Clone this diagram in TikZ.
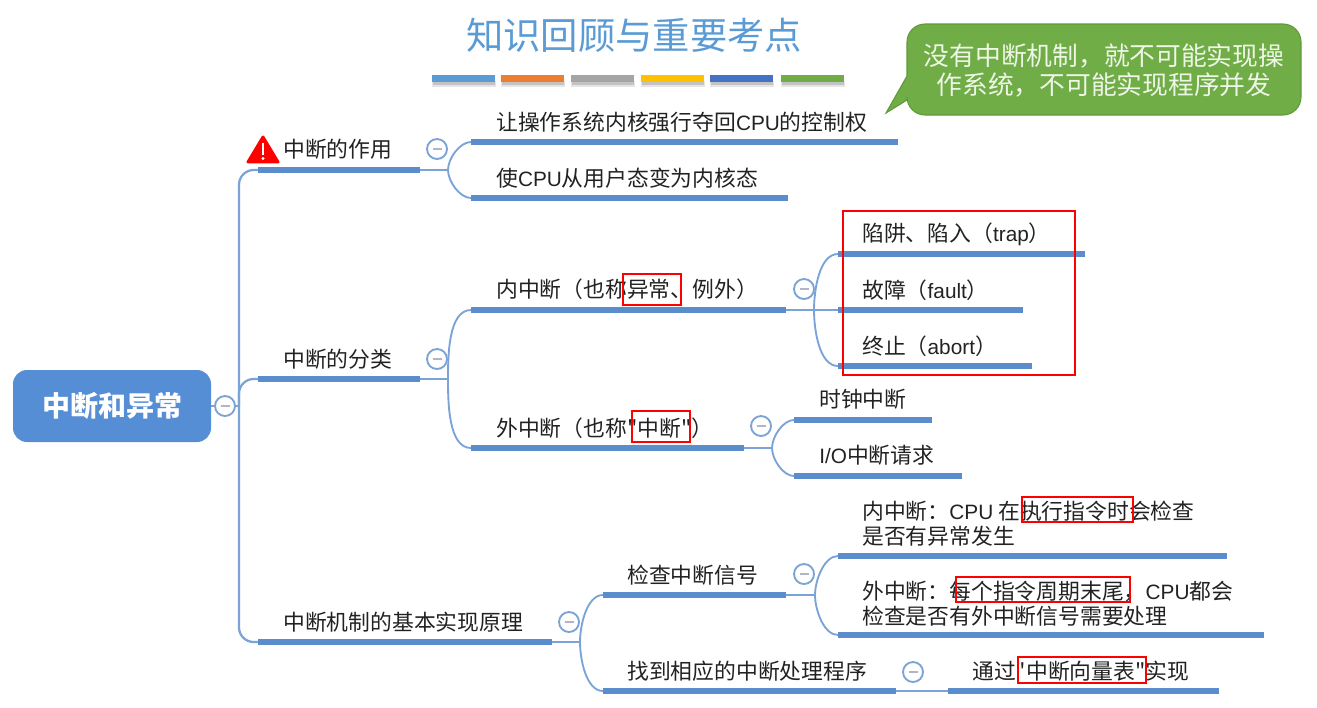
\documentclass[tikz,border=0pt]{standalone}
\usepackage{fontspec}
\newfontfamily\cjkmain{Noto Sans CJK SC}
\newfontfamily\latinpart{Liberation Sans}
\newcommand{\la}[1]{{\latinpart\fontsize{15.6pt}{18.6pt}\selectfont #1}}
\AtBeginDocument{\cjkmain}
\usetikzlibrary{calc}
\definecolor{barblue}{HTML}{5B8CCB}
\definecolor{connblue}{HTML}{7BA3D6}
\definecolor{rootblue}{HTML}{558ED5}
\definecolor{inktext}{HTML}{222222}
\definecolor{calloutgreen}{HTML}{70AD47}
\definecolor{calloutedge}{HTML}{5F9A3A}
\definecolor{calloutink}{HTML}{EEF6E6}
\definecolor{minusmark}{HTML}{B4B4C8}
\tikzset{
  barst/.style={rectangle,fill=barblue,draw=none,minimum height=4.8pt,inner sep=0pt,outer sep=0pt},
  conn/.style={draw=connblue,line width=1.7pt},
  twig/.style={draw=connblue,line width=1.4pt},
  lbl/.style={anchor=base west,inner sep=0pt,text=inktext,font=\cjkmain\fontsize{16.35pt}{18.6pt}\selectfont},
  redbox/.style={draw=red,line width=0.9pt},
  minusst/.style={circle,draw=connblue,fill=white,line width=1.4pt,minimum size=15pt,inner sep=0pt,
    path picture={\draw[draw=minusmark,line width=1.3pt] ($(path picture bounding box.center)+(-4.5,0)$) -- ($(path picture bounding box.center)+(4.5,0)$);}},
  swatch/.style={rectangle,minimum height=5.2pt,minimum width=47.3pt,inner sep=0pt,draw=none},
}
\newcommand{\barnode}[4]{%
  \pgfmathsetmacro{\barw}{(#3-#2)*0.75}%
  \node[barst,minimum width=\barw pt] (#1) at ({(#2+#3)/2},#4) {};}
\newcommand{\swatchnode}[3]{%
  \fill[black,opacity=.10] (#2-32,81) rectangle (#2+32,87);
  \fill[black,opacity=.15] (#2-31,82) rectangle (#2+31,85);
  \node[swatch,fill=#3] (#1) at (#2,78.5) {};}
\begin{document}
\begin{tikzpicture}[x=0.75pt,y=-0.75pt]
\useasboundingbox (0,0) rectangle (1317,707);
% title
\node[inner sep=0pt,text={rgb,255:red,91;green,155;blue,213},font=\fontsize{28pt}{32pt}\selectfont] (title) at (634,35.5) {知识回顾与重要考点};
\definecolor{sw1}{HTML}{5B9BD5}\definecolor{sw2}{HTML}{ED7D31}\definecolor{sw3}{HTML}{A5A5A5}
\definecolor{sw4}{HTML}{FFC000}\definecolor{sw5}{HTML}{4472C4}\definecolor{sw6}{HTML}{70AD47}
\swatchnode{s1}{463.5}{sw1}
\swatchnode{s2}{532.5}{sw2}
\swatchnode{s3}{602.5}{sw3}
\swatchnode{s4}{672.5}{sw4}
\swatchnode{s5}{741.5}{sw5}
\swatchnode{s6}{812.5}{sw6}
% callout
\draw[fill=calloutgreen,draw=calloutedge,line width=0.8pt]
  (925,24) -- (1283,24) arc[start angle=-90,end angle=0,radius=18] -- (1301,97)
  arc[start angle=0,end angle=90,radius=18] -- (925,115)
  arc[start angle=90,end angle=180,radius=18] -- (907,100) -- (886,113) -- (907,76) -- (907,42)
  arc[start angle=180,end angle=270,radius=18] -- cycle;
\node[inner sep=0pt,align=center,text=calloutink,font=\fontsize{19.3pt}{21.9pt}\selectfont] (note) at (1104,70.5) {没有中断机制，就不可能实现操\\作系统，不可能实现程序并发};
% root
\node[rectangle,rounded corners=10.5pt,fill=rootblue,minimum width=148.5pt,minimum height=54pt,inner sep=0pt,text=white,font=\fontsize{21pt}{24pt}\selectfont\bfseries] (root) at (112,406) {中断和异常};
% bars
\barnode{b1}{258}{420}{170}
\barnode{b2}{258}{420}{379}
\barnode{b3}{258}{552}{642}
\barnode{a1}{471}{898}{142}
\barnode{a2}{471}{788}{198}
\barnode{c1}{471}{786}{310}
\barnode{c2}{471}{744}{448}
\barnode{d1}{838}{1085}{254}
\barnode{d2}{838}{1023}{310}
\barnode{d3}{838}{1032}{366}
\barnode{e1}{794}{932}{420}
\barnode{e2}{794}{962}{476}
\barnode{f1}{603}{786}{595}
\barnode{f2}{603}{896}{691}
\barnode{g1}{838}{1227}{556}
\barnode{g2}{838}{1264}{635}
\barnode{h1}{948}{1219}{691}
% junctions
\coordinate (jr) at (239,406);
\coordinate (jb1) at (448,170);
\coordinate (jb2) at (448,379);
\coordinate (jc1) at (814,310);
\coordinate (jc2) at (772,448);
\coordinate (jb3) at (580,642);
\coordinate (jf1) at (815,595);
% connectors
\draw[conn] (root.east) -- (jr);
\draw[conn,rounded corners=11pt] (b1.west) -| (jr);
\draw[conn,rounded corners=11pt] (b2.west) -| (jr);
\draw[conn,rounded corners=11pt] (b3.west) -| (jr);
\draw[twig] (b1.east) -- (jb1);
\draw[twig] (jb1) to[out=90,in=180,looseness=.8] (a1.west);
\draw[twig] (jb1) to[out=-90,in=180,looseness=.8] (a2.west);
\draw[twig] (b2.east) -- (jb2);
\draw[twig] (jb2) to[out=90,in=180,looseness=.8] (c1.west);
\draw[twig] (jb2) to[out=-90,in=180,looseness=.8] (c2.west);
\draw[twig] (c1.east) -- (d2.west);
\draw[twig] (jc1) to[out=90,in=180,looseness=.8] (d1.west);
\draw[twig] (jc1) to[out=-90,in=180,looseness=.8] (d3.west);
\draw[twig] (c2.east) -- (jc2);
\draw[twig] (jc2) to[out=90,in=180,looseness=.8] (e1.west);
\draw[twig] (jc2) to[out=-90,in=180,looseness=.8] (e2.west);
\draw[twig] (b3.east) -- (jb3);
\draw[twig] (jb3) to[out=90,in=180,looseness=.8] (f1.west);
\draw[twig] (jb3) to[out=-90,in=180,looseness=.8] (f2.west);
\draw[twig] (f1.east) -- (jf1);
\draw[twig] (jf1) to[out=90,in=180,looseness=.8] (g1.west);
\draw[twig] (jf1) to[out=-90,in=180,looseness=.8] (g2.west);
\draw[twig] (f2.east) -- (h1.west);
% collapse markers
\node[minusst] (m0) at (225,406) {};
\node[minusst] (m1) at (437,149) {};
\node[minusst] (m2) at (437,359) {};
\node[minusst] (m3) at (569,622) {};
\node[minusst] (m4) at (804,289) {};
\node[minusst] (m5) at (761,426) {};
\node[minusst] (m6) at (804,574) {};
\node[minusst] (m7) at (913,672) {};
% warning icon
\fill[red,draw=red,line width=2.2pt,line join=round] (263,137) -- (278,162) -- (248,162) -- cycle;
\fill[white] (261.6,143) rectangle (264.4,155);
\fill[white] (263,158.5) circle[radius=1.7];
% labels
\node[lbl] (t1) at (283,157.5) {中断的作用};
\node[lbl] (t2) at (283,367.5) {中断的分类};
\node[lbl] (t3) at (283,630.5) {中断机制的基本实现原理};
\node[lbl] (ta1) at (496,130.5) {让操作系统内核强行夺回\la{CPU}的控制权};
\node[lbl] (ta2) at (496,186.5) {使\la{CPU}从用户态变为内核态};
\node[lbl] (tc1) at (496,297.5) {内中断（也称异常、例外）};
\node[lbl] (tc2) at (496,436.5) {外中断（也称"中断"）};
\node[lbl] (td1) at (862,241.5) {陷阱、陷入（\la{trap}）};
\node[lbl] (td2) at (862,298) {故障（\la{fault}）};
\node[lbl] (td3) at (862,354.5) {终止（\la{abort}）};
\node[lbl] (te1) at (819,407.5) {时钟中断};
\node[lbl] (te2) at (819,463.5) {\la{I/O}中断请求};
\node[lbl] (tf1) at (627,583) {检查中断信号};
\node[lbl] (tf2) at (627,679) {找到相应的中断处理程序};
\node[lbl,anchor=north west,align=left] (tg1) at (862,500.5) {内中断：\la{CPU} 在执行指令时会检查\\是否有异常发生};
\node[lbl,anchor=north west,align=left] (tg2) at (862,580.5) {外中断：每个指令周期末尾，\la{CPU}都会\\检查是否有外中断信号需要处理};
\node[lbl] (th1) at (972,679) {通过"中断向量表"实现};
% red highlights
\draw[redbox] (843,211) rectangle (1075,375);
\draw[redbox] (623,274) rectangle (681,305);
\draw[redbox] (632,411) rectangle (690,442);
\draw[redbox] (1022,497) rectangle (1133,522);
\draw[redbox] (956,577) rectangle (1130,602);
\draw[redbox] (1018,657) rectangle (1146,683);
\end{tikzpicture}
\end{document}
